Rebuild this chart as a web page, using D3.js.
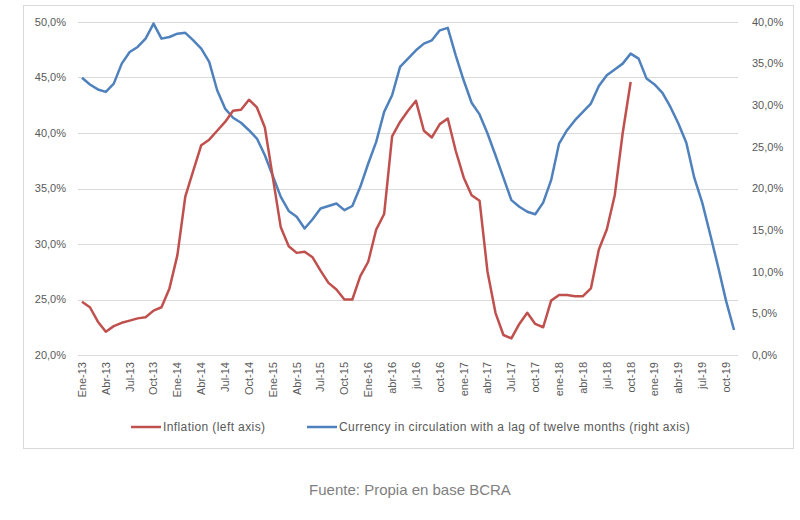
<!DOCTYPE html>
<html>
<head>
    <script src="https://cdnjs.cloudflare.com/ajax/libs/d3/7.8.5/d3.min.js"></script>
    <style>
        body { margin: 0; background: #fff; }
        svg { font-family: "Liberation Sans", Arial, sans-serif; }
        .tick-label { font-size: 11px; fill: #595959; }
        .legend-label { font-size: 12px; fill: #595959; letter-spacing: 0.4px; }
        .grid line { stroke: #d9d9d9; stroke-width: 1px; }
        .source { font-size: 15px; fill: #7f7f7f; }
    </style>
</head>
<body>
    <svg width="800" height="520"></svg>
    <script>
        // Months, Jan 2013 .. Nov 2019
        const months = [
            "Ene-13","Feb-13","Mar-13","Abr-13","May-13","Jun-13","Jul-13","Ago-13","Sep-13","Oct-13","Nov-13","Dic-13",
            "Ene-14","Feb-14","Mar-14","Abr-14","May-14","Jun-14","Jul-14","Ago-14","Sep-14","Oct-14","Nov-14","Dic-14",
            "Ene-15","Feb-15","Mar-15","Abr-15","May-15","Jun-15","Jul-15","Ago-15","Sep-15","Oct-15","Nov-15","Dic-15",
            "Ene-16","feb-16","mar-16","abr-16","may-16","jun-16","jul-16","ago-16","sep-16","oct-16","nov-16","dic-16",
            "ene-17","feb-17","mar-17","abr-17","may-17","jun-17","Jul-17","ago-17","sep-17","oct-17","nov-17","dic-17",
            "ene-18","feb-18","mar-18","abr-18","may-18","jun-18","jul-18","ago-18","sep-18","oct-18","nov-18","dic-18",
            "ene-19","feb-19","mar-19","abr-19","may-19","jun-19","jul-19","ago-19","sep-19","oct-19","nov-19"
        ];

        // Inflation, % (left axis), Jan 2013 .. Oct 2018
        const inflation = [
            24.8, 24.3, 23.0, 22.1, 22.6, 22.9, 23.1, 23.3, 23.4, 24.0, 24.3, 26.0,
            29.0, 34.3, 36.6, 38.9, 39.4, 40.2, 41.0, 42.0, 42.1, 43.0, 42.3, 40.5,
            36.0, 31.5, 29.8, 29.2, 29.3, 28.8, 27.6, 26.5, 25.9, 25.0, 25.0, 27.1,
            28.4, 31.3, 32.7, 39.7, 41.0, 42.0, 42.9, 40.2, 39.6, 40.8, 41.3, 38.4,
            36.0, 34.4, 33.9, 27.5, 23.8, 21.8, 21.5, 22.8, 23.8, 22.8, 22.5, 24.9,
            25.4, 25.4, 25.3, 25.3, 26.0, 29.5, 31.3, 34.4, 40.0, 44.6
        ];

        // Currency in circulation, 12-month lag, % (right axis), Jan 2013 .. Nov 2019
        const currency = [
            33.3, 32.5, 31.9, 31.6, 32.6, 35.0, 36.4, 37.0, 38.0, 39.8, 38.0, 38.2,
            38.6, 38.7, 37.8, 36.8, 35.2, 31.8, 29.6, 28.5, 27.9, 27.0, 26.0, 24.0,
            21.5, 19.0, 17.3, 16.6, 15.2, 16.3, 17.6, 17.9, 18.2, 17.4, 17.9, 20.2,
            23.0, 25.6, 29.2, 31.2, 34.6, 35.6, 36.6, 37.4, 37.8, 39.0, 39.3, 36.0,
            33.0, 30.3, 28.9, 26.6, 24.0, 21.3, 18.6, 17.8, 17.2, 16.9, 18.3, 21.0,
            25.4, 27.0, 28.2, 29.2, 30.2, 32.3, 33.6, 34.3, 35.0, 36.2, 35.6, 33.2,
            32.5, 31.5, 29.8, 27.8, 25.5, 21.3, 18.3, 14.5, 10.6, 6.5, 3.0
        ];

        const leftTicks = [20, 25, 30, 35, 40, 45, 50];
        const rightTicks = [0, 5, 10, 15, 20, 25, 30, 35, 40];

        const seriesNames = [
            "Inflation (left axis)",
            "Currency in circulation with a lag of twelve months (right axis)"
        ];
        const sourceText = "Fuente: Propia en base BCRA";

        const red = "#c0504d";
        const blue = "#4f81bd";

        const svg = d3.select("svg");
        const plotLeft = 78, plotRight = 738, plotTop = 22, plotBottom = 355;

        // Chart frame
        svg.append("rect")
            .attr("x", 23.5).attr("y", 5.5)
            .attr("width", 770).attr("height", 443)
            .attr("fill", "none")
            .attr("stroke", "#d9d9d9");

        const x = d3.scalePoint().domain(months).range([plotLeft, plotRight]).padding(0.5);
        const yL = d3.scaleLinear().domain([20, 50]).range([plotBottom, plotTop]);
        const yR = d3.scaleLinear().domain([0, 40]).range([plotBottom, plotTop]);

        const fmt = v => d3.format(".1f")(v).replace(".", ",") + "%";

        // Gridlines
        svg.append("g")
            .attr("class", "grid")
            .selectAll("line")
            .data(leftTicks)
            .join("line")
            .attr("x1", plotLeft).attr("x2", plotRight)
            .attr("y1", d => Math.round(yL(d)) + 0.5)
            .attr("y2", d => Math.round(yL(d)) + 0.5);

        // Left axis labels
        svg.append("g")
            .selectAll("text")
            .data(leftTicks)
            .join("text")
            .attr("class", "tick-label")
            .attr("x", 66)
            .attr("y", d => yL(d))
            .attr("dy", "0.35em")
            .attr("text-anchor", "end")
            .text(fmt);

        // Right axis labels
        svg.append("g")
            .selectAll("text")
            .data(rightTicks)
            .join("text")
            .attr("class", "tick-label")
            .attr("x", 752)
            .attr("y", d => yR(d))
            .attr("dy", "0.35em")
            .text(fmt);

        // X labels, one each quarter
        const xTicks = months.filter((m, i) => i % 3 === 0);
        svg.append("g")
            .selectAll("text")
            .data(xTicks)
            .join("text")
            .attr("class", "tick-label")
            .attr("text-anchor", "end")
            .attr("transform", d => `translate(${x(d)},362) rotate(-90)`)
            .attr("dy", "0.35em")
            .text(d => d);

        // Lines
        const lineL = d3.line().x((d, i) => x(months[i])).y(d => yL(d));
        const lineR = d3.line().x((d, i) => x(months[i])).y(d => yR(d));

        svg.append("path")
            .datum(currency)
            .attr("fill", "none")
            .attr("stroke", blue)
            .attr("stroke-width", 2.5)
            .attr("stroke-linejoin", "round")
            .attr("d", lineR);

        svg.append("path")
            .datum(inflation)
            .attr("fill", "none")
            .attr("stroke", red)
            .attr("stroke-width", 2.5)
            .attr("stroke-linejoin", "round")
            .attr("d", lineL);

        // Legend
        const legend = svg.append("g");
        const legendItems = [
            { name: seriesNames[0], color: red, x: 131 },
            { name: seriesNames[1], color: blue, x: 307 }
        ];
        legendItems.forEach(d => {
            legend.append("line")
                .attr("x1", d.x).attr("x2", d.x + 30)
                .attr("y1", 427).attr("y2", 427)
                .attr("stroke", d.color)
                .attr("stroke-width", 2.5);
            legend.append("text")
                .attr("class", "legend-label")
                .attr("x", d.x + 32)
                .attr("y", 427)
                .attr("dy", "0.35em")
                .text(d.name);
        });

        // Source note
        svg.append("text")
            .attr("class", "source")
            .attr("x", 410)
            .attr("y", 490)
            .attr("dy", "0.35em")
            .attr("text-anchor", "middle")
            .text(sourceText);
    </script>
</body>
</html>
